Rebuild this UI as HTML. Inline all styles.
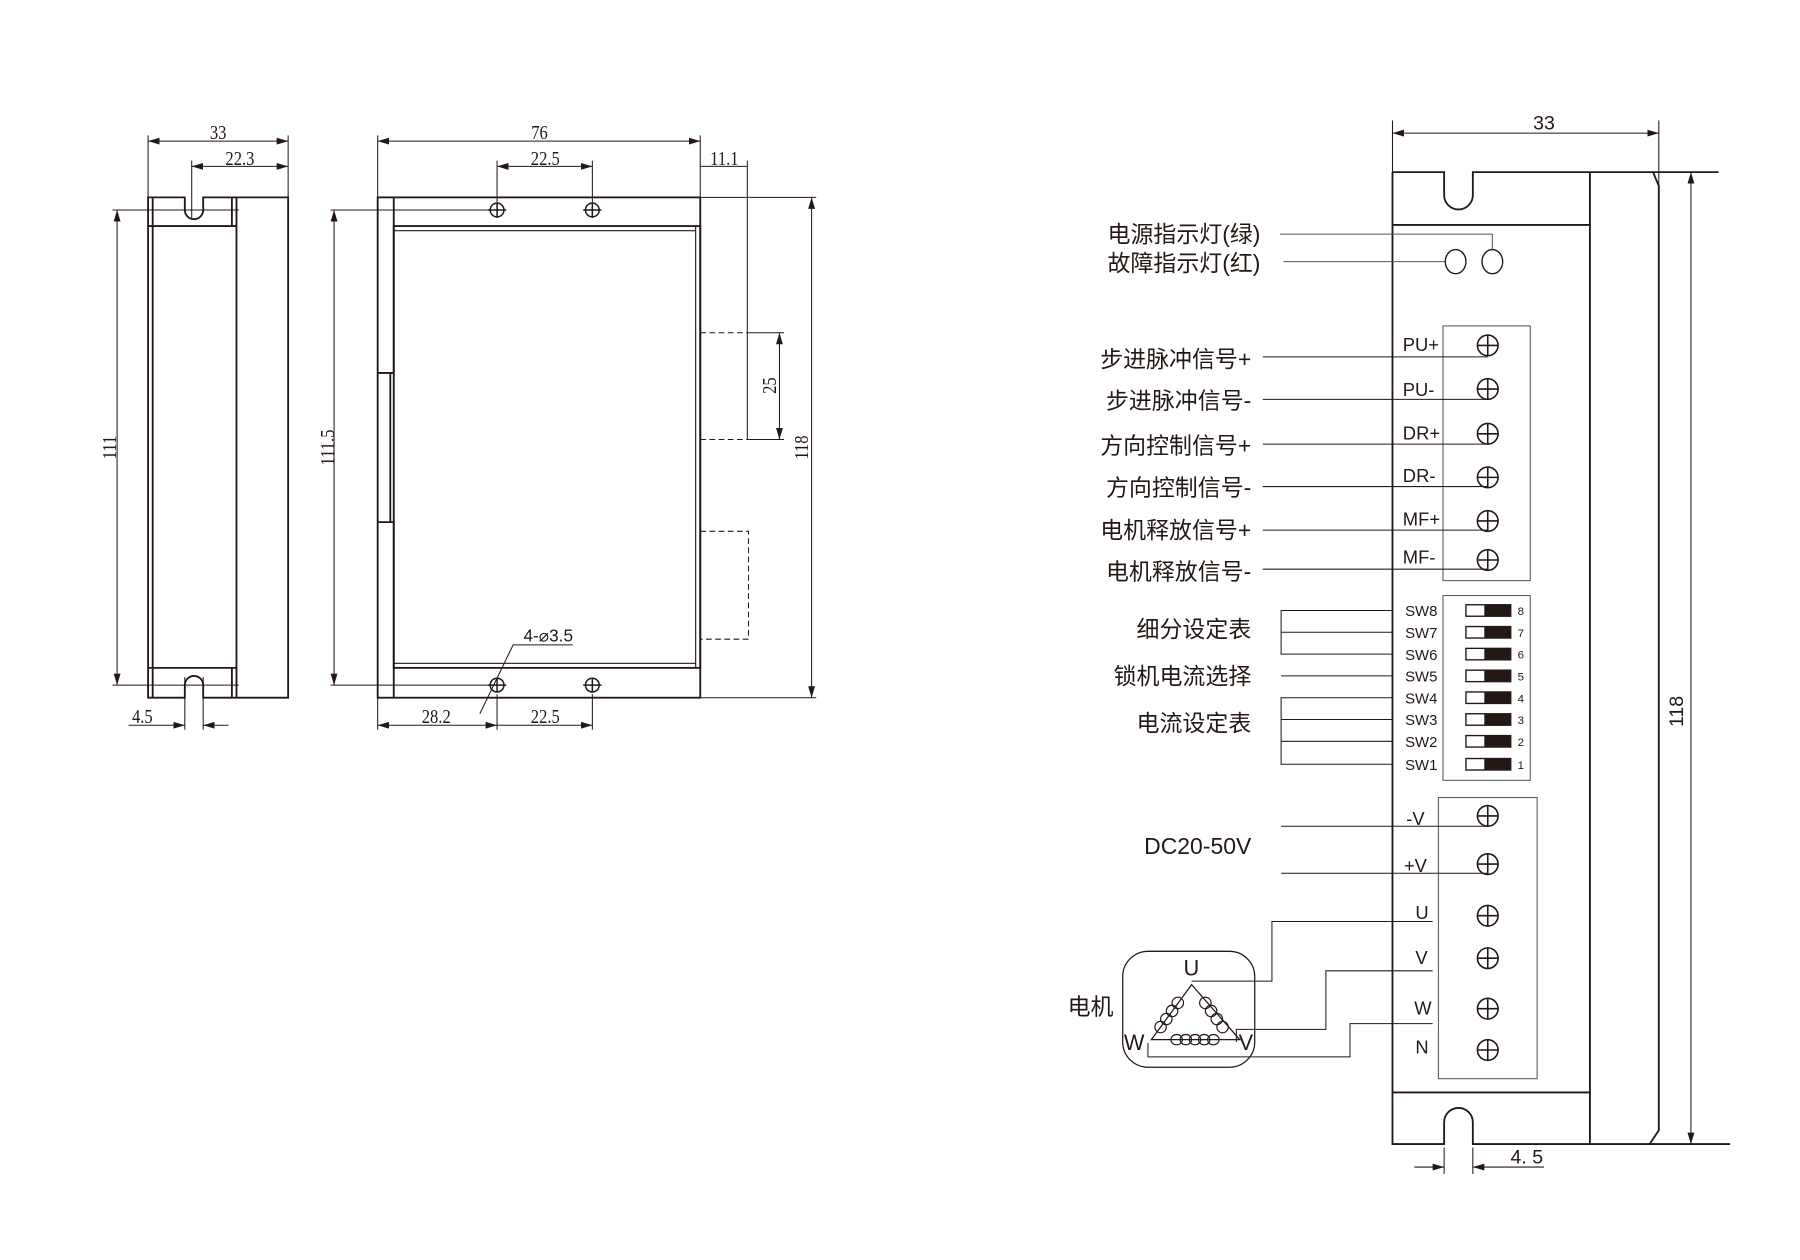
<!DOCTYPE html>
<html><head><meta charset="utf-8"><style>
html,body{margin:0;padding:0;background:#fff;}
svg{display:block;}
text{fill:#231815;}
.cn{font-family:"Liberation Sans","Noto Sans CJK SC",sans-serif;font-size:20px;}
.dm{font-family:"Liberation Serif",serif;font-size:17px;}
.tl{font-family:"Liberation Sans",sans-serif;font-size:16px;}
.sw{font-family:"Liberation Sans",sans-serif;font-size:13px;}
</style></head><body>
<svg width="1800" height="1260" viewBox="0 0 1568 1098" preserveAspectRatio="none" xmlns="http://www.w3.org/2000/svg">
<defs>
<marker id="a" viewBox="0 0 10 6" refX="10" refY="3" markerWidth="10" markerHeight="6" markerUnits="userSpaceOnUse" orient="auto-start-reverse"><path d="M0,0L10,3L0,6z" fill="#231815"/></marker>
</defs>
<g stroke="#231815" fill="none" stroke-width="1.6">
<path d="M129,172 H161 V183 A8,8 0 0 0 177,183 V172 H251 V608 H177 V597 A8,8 0 0 0 161,597 V608 H129 Z"/>
<line x1="206" y1="172" x2="206" y2="608"/>
<line x1="202" y1="172" x2="202" y2="197"/>
<line x1="202" y1="582" x2="202" y2="608"/>
<line x1="129" y1="197" x2="206" y2="197"/>
<line x1="129" y1="582" x2="206" y2="582"/>
<line x1="133" y1="172" x2="133" y2="608"/>
<g stroke-width="0.9">
<line x1="129" y1="118" x2="129" y2="172"/><line x1="251" y1="118" x2="251" y2="172"/>
<line x1="129" y1="123" x2="251" y2="123" marker-start="url(#a)" marker-end="url(#a)"/>
<line x1="167" y1="140" x2="167" y2="190"/>
<line x1="167" y1="145" x2="251" y2="145" marker-start="url(#a)" marker-end="url(#a)"/>
<line x1="98" y1="183" x2="208" y2="183"/><line x1="98" y1="597" x2="208" y2="597"/>
<line x1="102" y1="183" x2="102" y2="597" marker-start="url(#a)" marker-end="url(#a)"/>
<line x1="161" y1="590" x2="161" y2="636"/><line x1="177" y1="590" x2="177" y2="636"/>
<line x1="112" y1="632" x2="161" y2="632" marker-end="url(#a)"/>
<line x1="199" y1="632" x2="177" y2="632" marker-end="url(#a)"/>
</g>
<rect x="329" y="172" width="281" height="436"/>
<line x1="343" y1="172" x2="343" y2="325"/><line x1="343" y1="455" x2="343" y2="608"/>
<line x1="340" y1="325" x2="340" y2="455"/>
<line x1="329" y1="325" x2="343" y2="325"/><line x1="329" y1="455" x2="343" y2="455"/>
<rect x="343" y="197" width="267" height="385"/>
<line x1="343" y1="201" x2="606" y2="201" stroke-width="1"/>
<line x1="343" y1="578" x2="606" y2="578" stroke-width="1"/>
<line x1="606" y1="197" x2="606" y2="582" stroke-width="1"/>
<g stroke-width="1.3">
<circle cx="433" cy="183" r="6"/><circle cx="516" cy="183" r="6"/>
<circle cx="433" cy="597" r="6"/><circle cx="516" cy="597" r="6"/>
<line x1="425" y1="183" x2="441" y2="183"/><line x1="508" y1="183" x2="524" y2="183"/>
<line x1="425" y1="597" x2="441" y2="597"/><line x1="508" y1="597" x2="524" y2="597"/>
<line x1="433" y1="177" x2="433" y2="189"/><line x1="516" y1="177" x2="516" y2="189"/>
<line x1="433" y1="591" x2="433" y2="603"/><line x1="516" y1="591" x2="516" y2="603"/>
</g>
<g stroke-width="0.9">
<line x1="329" y1="118" x2="329" y2="172"/><line x1="610" y1="118" x2="610" y2="172"/>
<line x1="329" y1="123" x2="610" y2="123" marker-start="url(#a)" marker-end="url(#a)"/>
<line x1="433" y1="140" x2="433" y2="190"/><line x1="516" y1="140" x2="516" y2="190"/>
<line x1="433" y1="145" x2="516" y2="145" marker-start="url(#a)" marker-end="url(#a)"/>
<line x1="610" y1="145" x2="651" y2="145"/>
<line x1="651" y1="140" x2="651" y2="383"/>
<line x1="288" y1="183" x2="433" y2="183"/><line x1="288" y1="597" x2="433" y2="597"/>
<line x1="291" y1="183" x2="291" y2="597" marker-start="url(#a)" marker-end="url(#a)"/>
<line x1="610" y1="172" x2="711" y2="172"/><line x1="610" y1="608" x2="711" y2="608"/>
<line x1="707" y1="172" x2="707" y2="608" marker-start="url(#a)" marker-end="url(#a)"/>
<line x1="651" y1="290" x2="683" y2="290"/><line x1="651" y1="383" x2="683" y2="383"/>
<line x1="679" y1="290" x2="679" y2="383" marker-start="url(#a)" marker-end="url(#a)"/>
<path d="M610,290 H651 M610,383 H651 M610,463 H652 V557 H610" stroke-dasharray="5,3"/>
<line x1="329" y1="608" x2="329" y2="636"/><line x1="433" y1="605" x2="433" y2="636"/><line x1="516" y1="605" x2="516" y2="636"/>
<line x1="329" y1="632" x2="433" y2="632" marker-start="url(#a)" marker-end="url(#a)"/>
<line x1="433" y1="632" x2="516" y2="632" marker-end="url(#a)"/>
<path d="M418,622 L447,562 H499"/>
</g>
<g stroke-width="0.9">
<line x1="1213" y1="105" x2="1213" y2="150"/><line x1="1445" y1="105" x2="1445" y2="162"/>
<line x1="1213" y1="116" x2="1445" y2="116" marker-start="url(#a)" marker-end="url(#a)"/>
<line x1="1473" y1="150" x2="1473" y2="997" marker-start="url(#a)" marker-end="url(#a)"/>
<line x1="1258" y1="1000" x2="1258" y2="1023"/><line x1="1283" y1="1000" x2="1283" y2="1023"/>
<line x1="1232" y1="1017" x2="1258" y2="1017" marker-end="url(#a)"/>
<line x1="1345" y1="1017" x2="1283" y2="1017" marker-end="url(#a)"/>
</g>
<path d="M1213,150 H1258 V170 A12.5,12.5 0 0 0 1283,170 V150 H1497"/>
<path d="M1213,150 V997 H1258 V978 A12.5,12.5 0 0 1 1283,978 V997 H1507"/>
<line x1="1213" y1="196" x2="1385" y2="196"/>
<line x1="1213" y1="952" x2="1385" y2="952"/>
<line x1="1385" y1="150" x2="1385" y2="997"/>
<path d="M1440,150 L1445,162 V985 L1437,997"/>
<g stroke-width="1.2"><ellipse cx="1268" cy="228" rx="9" ry="10.5"/><ellipse cx="1300" cy="228" rx="9" ry="10.5"/></g>
<g stroke-width="0.9" stroke="#555">
<path d="M1115,204 H1300 V217"/><path d="M1118,228 H1259"/>
</g>
<rect x="1257" y="284" width="76" height="222" stroke-width="0.9" stroke="#555"/>
<g stroke-width="0.9">
<line x1="1100" y1="311" x2="1296" y2="311"/><line x1="1100" y1="348" x2="1296" y2="348"/>
<line x1="1100" y1="387" x2="1296" y2="387"/><line x1="1100" y1="424" x2="1296" y2="424"/>
<line x1="1100" y1="462" x2="1296" y2="462"/><line x1="1100" y1="496" x2="1296" y2="496"/>
</g>
<g stroke-width="1.4">
<g transform="translate(1296,301)"><circle r="9"/><path d="M-9,0H9M0,-9V9"/></g>
<g transform="translate(1296,339)"><circle r="9"/><path d="M-9,0H9M0,-9V9"/></g>
<g transform="translate(1296,378)"><circle r="9"/><path d="M-9,0H9M0,-9V9"/></g>
<g transform="translate(1296,416)"><circle r="9"/><path d="M-9,0H9M0,-9V9"/></g>
<g transform="translate(1296,454)"><circle r="9"/><path d="M-9,0H9M0,-9V9"/></g>
<g transform="translate(1296,488)"><circle r="9"/><path d="M-9,0H9M0,-9V9"/></g>
<g transform="translate(1296,711)"><circle r="9"/><path d="M-9,0H9M0,-9V9"/></g>
<g transform="translate(1296,753)"><circle r="9"/><path d="M-9,0H9M0,-9V9"/></g>
<g transform="translate(1296,798)"><circle r="9"/><path d="M-9,0H9M0,-9V9"/></g>
<g transform="translate(1296,835)"><circle r="9"/><path d="M-9,0H9M0,-9V9"/></g>
<g transform="translate(1296,879)"><circle r="9"/><path d="M-9,0H9M0,-9V9"/></g>
<g transform="translate(1296,915)"><circle r="9"/><path d="M-9,0H9M0,-9V9"/></g>
</g>
<rect x="1257" y="519" width="76" height="161" stroke-width="0.9" stroke="#555"/>
<g stroke-width="0.9">
<path d="M1213,532 H1116 V570 H1213 M1116,551 H1213"/>
<path d="M1116,589 H1213"/>
<path d="M1213,608 H1116 V666 H1213 M1116,627 H1213 M1116,646 H1213"/>
</g>
<g stroke-width="1.2">
<rect x="1277" y="527" width="39" height="10"/><rect x="1277" y="546" width="39" height="10"/>
<rect x="1277" y="565" width="39" height="10"/><rect x="1277" y="584" width="39" height="10"/>
<rect x="1277" y="603" width="39" height="10"/><rect x="1277" y="622" width="39" height="10"/>
<rect x="1277" y="641" width="39" height="10"/><rect x="1277" y="661" width="39" height="10"/>
</g>
<g fill="#231815" stroke="none">
<rect x="1293" y="527" width="23" height="10"/><rect x="1293" y="546" width="23" height="10"/>
<rect x="1293" y="565" width="23" height="10"/><rect x="1293" y="584" width="23" height="10"/>
<rect x="1293" y="603" width="23" height="10"/><rect x="1293" y="622" width="23" height="10"/>
<rect x="1293" y="641" width="23" height="10"/><rect x="1293" y="661" width="23" height="10"/>
</g>
<rect x="1253" y="695" width="86" height="245" stroke-width="0.9" stroke="#555"/>
<g stroke-width="0.9">
<line x1="1116" y1="720" x2="1296" y2="720"/><line x1="1116" y1="761" x2="1296" y2="761"/>
<path d="M1038,855 H1108 V803 H1248"/>
<path d="M1077,908 V897 H1155 V846 H1248"/>
<path d="M1000,909 V921 H1176 V892 H1248"/>
</g>
<rect x="978" y="829" width="115" height="101" rx="22" stroke-width="1.1"/>
<path d="M1038,858 L1003,906 H1080 Z" stroke-width="1.1"/>
<g stroke-width="1">
<circle cx="1026" cy="874" r="5"/><circle cx="1021" cy="881" r="5"/><circle cx="1016" cy="888" r="5"/><circle cx="1011" cy="895" r="5"/>
<circle cx="1050" cy="874" r="5"/><circle cx="1055" cy="881" r="5"/><circle cx="1060" cy="888" r="5"/><circle cx="1065" cy="895" r="5"/>
<ellipse cx="1025" cy="906" rx="5" ry="4.5"/><ellipse cx="1033" cy="906" rx="5" ry="4.5"/><ellipse cx="1041" cy="906" rx="5" ry="4.5"/><ellipse cx="1049" cy="906" rx="5" ry="4.5"/><ellipse cx="1057" cy="906" rx="5" ry="4.5"/>
</g>
</g>
<g class="dm" text-anchor="middle">
<text transform="translate(190,121) scale(0.85,1)">33</text>
<text transform="translate(209,144) scale(0.85,1)">22.3</text>
<text transform="translate(124,630) scale(0.85,1)">4.5</text>
<text transform="translate(470,121) scale(0.85,1)">76</text>
<text transform="translate(475,144) scale(0.85,1)">22.5</text>
<text transform="translate(631,144) scale(0.85,1)">11.1</text>
<text transform="translate(380,630) scale(0.85,1)">28.2</text>
<text transform="translate(475,630) scale(0.85,1)">22.5</text>
<text transform="translate(101,390) rotate(-90) scale(0.85,1)">111</text>
<text transform="translate(291,390) rotate(-90) scale(0.85,1)">111.5</text>
<text transform="translate(676,336) rotate(-90) scale(0.85,1)">25</text>
<text transform="translate(704,390) rotate(-90) scale(0.85,1)">118</text>
</g>
<text x="456" y="559" class="tl" style="font-size:15px">4-⌀3.5</text>
<g class="tl" text-anchor="middle" style="font-size:17px">
<text x="1345" y="113">33</text>
<text transform="translate(1466,620) rotate(-90)">118</text>
<text x="1330" y="1014">4. 5</text>
</g>
<g class="cn" text-anchor="end">
<text x="1098" y="211">电源指示灯(绿)</text>
<text x="1098" y="236">故障指示灯(红)</text>
<text x="1090" y="320">步进脉冲信号+</text>
<text x="1090" y="356">步进脉冲信号-</text>
<text x="1090" y="395">方向控制信号+</text>
<text x="1090" y="432">方向控制信号-</text>
<text x="1090" y="469">电机释放信号+</text>
<text x="1090" y="505">电机释放信号-</text>
<text x="1090" y="555">细分设定表</text>
<text x="1090" y="596">锁机电流选择</text>
<text x="1090" y="637">电流设定表</text>
<text x="1090" y="744">DC20-50V</text>
<text x="970" y="884">电机</text>
</g>
<g class="tl">
<text x="1222" y="306">PU+</text><text x="1222" y="345">PU-</text>
<text x="1222" y="383">DR+</text><text x="1222" y="420">DR-</text>
<text x="1222" y="458">MF+</text><text x="1222" y="491">MF-</text>
<text x="1225" y="719">-V</text><text x="1223" y="760">+V</text>
<text x="1233" y="801">U</text><text x="1233" y="840">V</text>
<text x="1232" y="884">W</text><text x="1233" y="918">N</text>
</g>
<g class="tl" style="font-size:19px">
<text x="1031" y="850">U</text><text x="979" y="915">W</text><text x="1079" y="915">V</text>
</g>
<g class="sw">
<text x="1224" y="537">SW8</text><text x="1224" y="556">SW7</text><text x="1224" y="575">SW6</text><text x="1224" y="594">SW5</text>
<text x="1224" y="613">SW4</text><text x="1224" y="632">SW3</text><text x="1224" y="651">SW2</text><text x="1224" y="671">SW1</text>
<g style="font-size:10px">
<text x="1322" y="536">8</text><text x="1322" y="555">7</text><text x="1322" y="574">6</text><text x="1322" y="593">5</text>
<text x="1322" y="612">4</text><text x="1322" y="631">3</text><text x="1322" y="650">2</text><text x="1322" y="670">1</text>
</g>
</g>
</svg>
</body></html>
